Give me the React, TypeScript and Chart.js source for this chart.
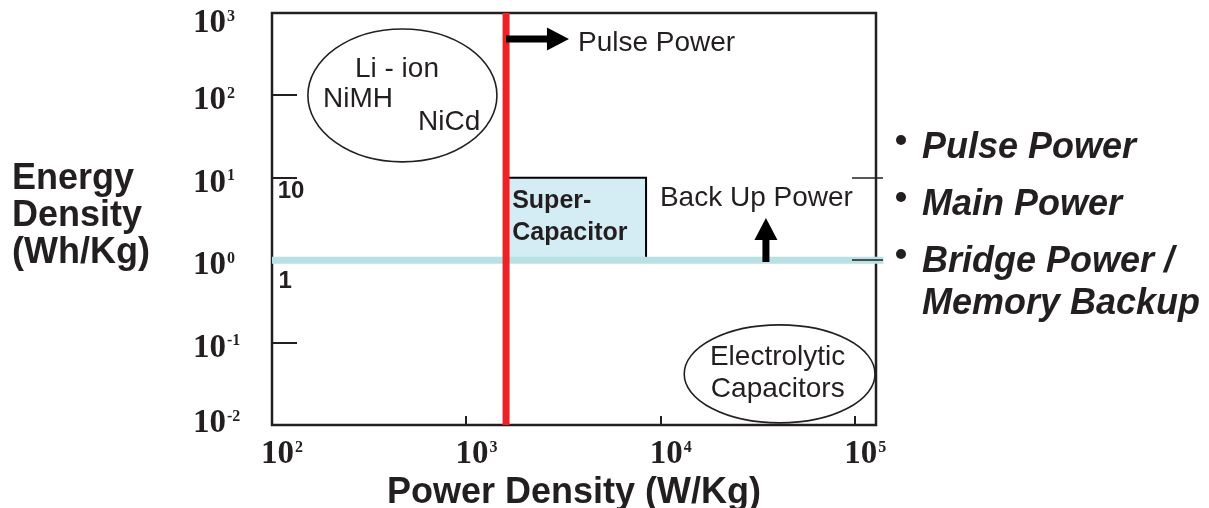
import React, { useEffect, useRef } from "react";
import { Chart, registerables } from "chart.js";

Chart.register(...registerables);

// ---- axis data ----
const xRange = [100, 128000];
const yRange = [0.01, 1000];
const xTickValues = [100, 1000, 10000, 100000];
const xTickExponents = ["2", "3", "4", "5"];
const yTickValues = [1000, 100, 10, 1, 0.1, 0.01];
const yTickExponents = ["3", "2", "1", "0", "-1", "-2"];
const leftTickValues = [100, 10, 0.1];
const bottomTickValues = [1000, 10000, 100000];
const rightTickValues = [10, 1];

// ---- series ----
const pulseLine = [
  { x: 1600, y: 0.01 },
  { x: 1600, y: 1000 },
];
const bridgeLine = [
  { x: 100, y: 1 },
  { x: 140000, y: 1 },
];
const superCapBox = [
  { x: 1600, y: 1 },
  { x: 1600, y: 10 },
  { x: 8400, y: 10 },
  { x: 8400, y: 1 },
  { x: 1600, y: 1 },
];

// ---- annotations (data coordinates) ----
const batteryEllipse = { xMin: 153, xMax: 1436, yMin: 15.6, yMax: 640 };
const electrolyticEllipse = { xMin: 13200, xMax: 126500, yMin: 0.0106, yMax: 0.164 };
const pulseArrow = { from: { x: 1600, y: 483 }, to: { x: 3370, y: 483 } };
const backupArrow = { from: { x: 34750, y: 0.95 }, to: { x: 34750, y: 3.25 } };
const plainLabels = [
  { text: "Pulse Power", x: 3750, y: 346 },
  { text: "Back Up Power", x: 9900, y: 4.55 },
  { text: "Li - ion", x: 267, y: 167 },
  { text: "NiMH", x: 183, y: 72 },
  { text: "NiCd", x: 564, y: 38 },
  { text: "Electrolytic", x: 17900, y: 0.0535 },
  { text: "Capacitors", x: 18100, y: 0.0219 },
];
const boldLabels = [
  { text: "Super-", x: 1720, y: 4.3 },
  { text: "Capacitor", x: 1720, y: 1.76 },
];
const lineValueLabels = [
  { text: "10", x: 107, y: 5.7 },
  { text: "1", x: 108, y: 0.46 },
];
const yTitleLines = ["Energy", "Density", "(Wh/Kg)"];
const xTitle = "Power Density (W/Kg)";
const sideList = [
  { text: "Pulse Power", bullet: true },
  { text: "Main Power", bullet: true },
  { text: "Bridge Power /", bullet: true },
  { text: "Memory Backup", bullet: false },
];

const INK = "#231f20";
const SANS = '"Liberation Sans", Arial, sans-serif';
const SERIF = '"Liberation Serif", "Times New Roman", serif';

function drawArrow(ctx: CanvasRenderingContext2D, x0: number, y0: number, x1: number, y1: number) {
  const shaft = 7;
  const headLen = 22;
  const headW = 23;
  const dx = x1 - x0;
  const dy = y1 - y0;
  const len = Math.hypot(dx, dy);
  const ux = dx / len;
  const uy = dy / len;
  const nx = -uy;
  const ny = ux;
  const bx = x1 - ux * headLen;
  const by = y1 - uy * headLen;
  ctx.save();
  ctx.fillStyle = "#000";
  ctx.beginPath();
  ctx.moveTo(x0 + (nx * shaft) / 2, y0 + (ny * shaft) / 2);
  ctx.lineTo(bx + (nx * shaft) / 2, by + (ny * shaft) / 2);
  ctx.lineTo(bx + (nx * headW) / 2, by + (ny * headW) / 2);
  ctx.lineTo(x1, y1);
  ctx.lineTo(bx - (nx * headW) / 2, by - (ny * headW) / 2);
  ctx.lineTo(bx - (nx * shaft) / 2, by - (ny * shaft) / 2);
  ctx.lineTo(x0 - (nx * shaft) / 2, y0 - (ny * shaft) / 2);
  ctx.closePath();
  ctx.fill();
  ctx.restore();
}

function drawPower(ctx: CanvasRenderingContext2D, base: string, sup: string, x: number, baseline: number) {
  ctx.font = `bold 33px ${SERIF}`;
  ctx.textAlign = "left";
  ctx.textBaseline = "alphabetic";
  ctx.fillText(base, x, baseline);
  const w = ctx.measureText(base).width;
  ctx.font = `bold 16px ${SERIF}`;
  ctx.fillText(sup, x + w + 1, baseline - 11.5);
}

const framePlugin = {
  id: "frameAndTicks",
  beforeDatasetsDraw(chart: any) {
    const { ctx, chartArea } = chart;
    ctx.save();
    ctx.strokeStyle = INK;
    ctx.lineWidth = 2.5;
    ctx.strokeRect(chartArea.left, chartArea.top, chartArea.right - chartArea.left, chartArea.bottom - chartArea.top);
    ctx.restore();
  },
  afterDatasetsDraw(chart: any) {
    const { ctx, chartArea } = chart;
    const xs = chart.scales.x;
    const ys = chart.scales.y;
    ctx.save();
    ctx.strokeStyle = INK;
    ctx.fillStyle = INK;

    // inner tick marks
    ctx.lineWidth = 2;
    leftTickValues.forEach((v) => {
      const y = Math.round(ys.getPixelForValue(v));
      ctx.beginPath();
      ctx.moveTo(chartArea.left, y);
      ctx.lineTo(chartArea.left + 25, y);
      ctx.stroke();
    });
    bottomTickValues.forEach((v) => {
      const x = Math.round(xs.getPixelForValue(v));
      ctx.beginPath();
      ctx.moveTo(x, chartArea.bottom);
      ctx.lineTo(x, chartArea.bottom - 9);
      ctx.stroke();
    });
    ctx.lineWidth = 1.5;
    rightTickValues.forEach((v) => {
      const y = Math.round(ys.getPixelForValue(v));
      ctx.beginPath();
      ctx.moveTo(chartArea.right - 24, y);
      ctx.lineTo(chartArea.right + 7, y);
      ctx.stroke();
    });

    // tick labels
    yTickValues.forEach((v, i) => {
      const py = ys.getPixelForValue(v);
      const c = Math.min(Math.max(py + 3, chartArea.top + 8), chartArea.bottom - 4);
      drawPower(ctx, "10", yTickExponents[i], 193, c + 11);
    });
    xTickValues.forEach((v, i) => {
      const px = xs.getPixelForValue(v);
      drawPower(ctx, "10", xTickExponents[i], px - 11, chartArea.bottom + 38);
    });

    // ellipses
    ctx.lineWidth = 1.6;
    [batteryEllipse, electrolyticEllipse].forEach((e) => {
      const x0 = xs.getPixelForValue(e.xMin);
      const x1 = xs.getPixelForValue(e.xMax);
      const y0 = ys.getPixelForValue(e.yMax);
      const y1 = ys.getPixelForValue(e.yMin);
      ctx.beginPath();
      ctx.ellipse((x0 + x1) / 2, (y0 + y1) / 2, (x1 - x0) / 2, (y1 - y0) / 2, 0, 0, Math.PI * 2);
      ctx.stroke();
    });

    // arrows
    [pulseArrow, backupArrow].forEach((a) => {
      drawArrow(
        ctx,
        xs.getPixelForValue(a.from.x),
        ys.getPixelForValue(a.from.y),
        xs.getPixelForValue(a.to.x),
        ys.getPixelForValue(a.to.y)
      );
    });

    // in-plot labels
    ctx.textAlign = "left";
    ctx.textBaseline = "alphabetic";
    ctx.fillStyle = INK;
    ctx.font = `28px ${SANS}`;
    plainLabels.forEach((l) => ctx.fillText(l.text, xs.getPixelForValue(l.x), ys.getPixelForValue(l.y)));
    ctx.font = `bold 25px ${SANS}`;
    boldLabels.forEach((l) => ctx.fillText(l.text, xs.getPixelForValue(l.x), ys.getPixelForValue(l.y)));
    ctx.font = `bold 24px ${SANS}`;
    lineValueLabels.forEach((l) => ctx.fillText(l.text, xs.getPixelForValue(l.x), ys.getPixelForValue(l.y)));

    // axis titles
    ctx.font = `bold 36px ${SANS}`;
    yTitleLines.forEach((t, i) => ctx.fillText(t, 12, 189 + i * 37));
    ctx.textAlign = "center";
    ctx.fillText(xTitle, (chartArea.left + chartArea.right) / 2, chartArea.bottom + 78);

    // side list
    ctx.textAlign = "left";
    ctx.font = `italic bold 36px ${SANS}`;
    const baselines = [158, 215, 272, 314];
    sideList.forEach((s, i) => {
      ctx.fillText(s.text, chartArea.right + 46, baselines[i]);
      if (s.bullet) {
        ctx.beginPath();
        ctx.arc(chartArea.right + 25, baselines[i] - 18, 5, 0, Math.PI * 2);
        ctx.fill();
      }
    });
    ctx.restore();
  },
};

export default function App() {
  const canvasRef = useRef<HTMLCanvasElement | null>(null);
  useEffect(() => {
    if (!canvasRef.current) return;
    const chart = new Chart(canvasRef.current, {
      type: "scatter",
      data: {
        datasets: [
          {
            data: pulseLine,
            showLine: true,
            borderColor: "#ec2227",
            borderWidth: 7,
            pointRadius: 0,
            borderCapStyle: "butt",
          },
          {
            data: bridgeLine,
            showLine: true,
            borderColor: "#b9e0e3",
            borderWidth: 7,
            pointRadius: 0,
            clip: false,
          },
          {
            data: superCapBox,
            showLine: true,
            borderColor: "#000",
            borderWidth: 2,
            backgroundColor: "#d4edf4",
            fill: "shape",
            pointRadius: 0,
          },
        ],
      } as any,
      options: {
        animation: false,
        responsive: true,
        maintainAspectRatio: false,
        layout: { padding: { left: 272, top: 13, right: 333, bottom: 83 } },
        plugins: { legend: { display: false }, tooltip: { enabled: false } },
        events: [],
        scales: {
          x: { type: "logarithmic", min: xRange[0], max: xRange[1], display: false },
          y: { type: "logarithmic", min: yRange[0], max: yRange[1], display: false },
        },
      } as any,
      plugins: [framePlugin],
    });
    return () => chart.destroy();
  }, []);
  return (
    <div style={{ position: "absolute", left: 0, top: 0, width: 1209, height: 508, background: "#fff" }}>
      <canvas ref={canvasRef} />
    </div>
  );
}
